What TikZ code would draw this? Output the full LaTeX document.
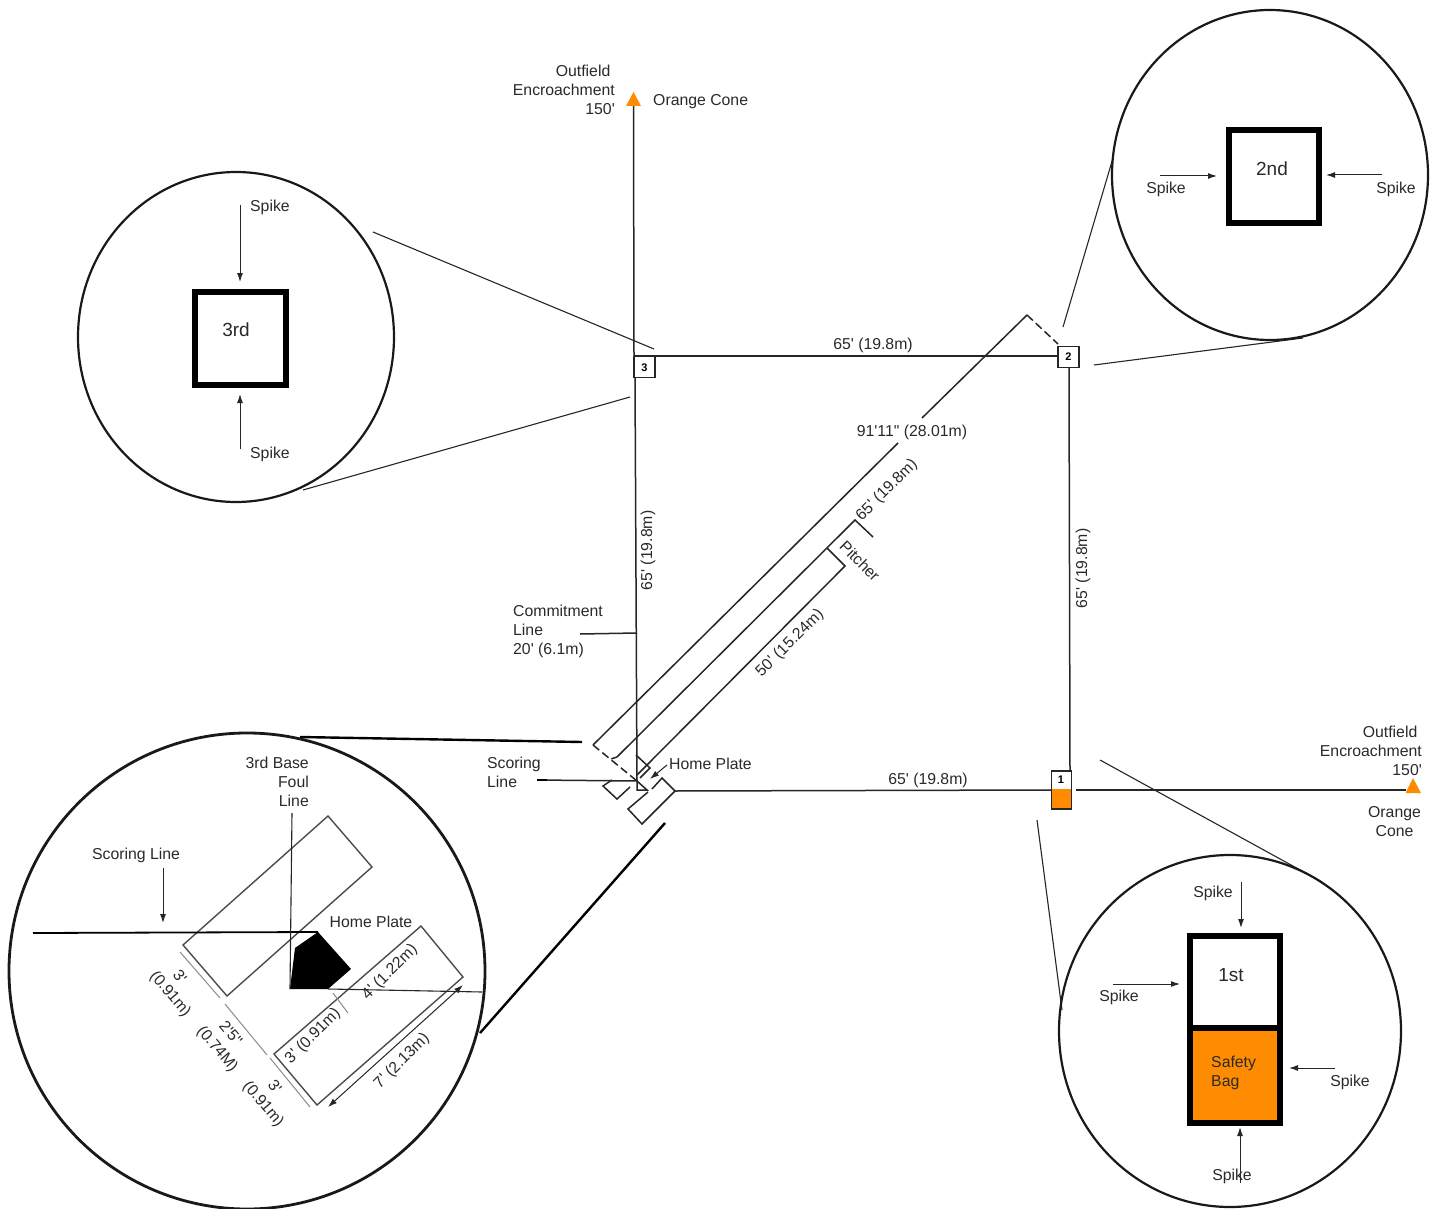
\documentclass[tikz,border=0pt]{standalone}
\usepackage{fontspec}
\newfontfamily\labfont{Liberation Sans}
\usetikzlibrary{arrows.meta}
\definecolor{cone}{HTML}{FF8C00}
\definecolor{txt}{HTML}{2A2A2A}
\tikzset{
  lab/.style={text=txt,inner sep=0pt,yshift=-1.3pt,font=\labfont\fontsize{15.8}{19}\selectfont,align=center},
  labl/.style={lab,align=left,anchor=west},
  labr/.style={lab,align=right,anchor=east},
  big/.style={text=txt,inner sep=0pt,font=\labfont\fontsize{19}{22}\selectfont},
  basenum/.style={text=black,inner sep=0pt,font=\labfont\fontsize{11}{12}\bfseries\selectfont},
  thin line/.style={draw=black!85,line width=1.1pt},
  med line/.style={draw=black!85,line width=1.5pt},
  heavy line/.style={draw=black,line width=2.4pt},
  ring/.style={draw=black!90,line width=2.2pt},
  arr/.style={draw=black!85,line width=1pt,-{Latex[length=9pt,width=6pt]}},
  dim/.style={draw=black!45,line width=1pt},
  boxline/.style={draw=black!70,line width=1.4pt},
  bag/.style={draw=black,line width=6pt},
  conetri/.style={fill=cone,draw=none},
  basebox/.style={draw=black!85,line width=1.4pt,fill=white}
}
\begin{document}
\begin{tikzpicture}[x=1pt,y=-1pt]
\useasboundingbox (0,0) rectangle (1435,1209);
\fill[white] (0,0) rectangle (1435,1209);

% ---- named points
\coordinate (coneT) at (633.5,106);
\coordinate (thirdA) at (634,356);
\coordinate (thirdB) at (635,378);
\coordinate (homeP) at (637,781);
\coordinate (homeR) at (675,791);
\coordinate (firstL) at (1051,790);
\coordinate (firstR) at (1076,790);
\coordinate (coneR) at (1406,790);
\coordinate (secondL) at (1058,356);
\coordinate (secondD) at (1069,367);
\coordinate (firstU) at (1070,771);
\coordinate (apex) at (1027,315);
\coordinate (secondC) at (1058,344);
\coordinate (gapA) at (922,418);
\coordinate (gapB) at (898,443);
\coordinate (leftC) at (593,745);
\coordinate (pitchTop) at (855,520);
\coordinate (pitchTick) at (873,537);
\coordinate (midEnd) at (617,757);
\coordinate (midDash) at (608,760);
\coordinate (pitchRub) at (827,548);
\coordinate (rubEnd) at (845,566);
\coordinate (lowEnd) at (637,775);
\coordinate (scorA) at (537,780);
\coordinate (commitA) at (580,634);
\coordinate (commitB) at (637,633);
\coordinate (hpA) at (667,765);
\coordinate (hpB) at (650,779);

% ---- zoom connectors
\coordinate (z3a) at (373,232); \coordinate (z3b) at (654,349);
\coordinate (z3c) at (630,397); \coordinate (z3d) at (303,490);
\coordinate (z2a) at (1113,158); \coordinate (z2b) at (1063,327);
\coordinate (z2c) at (1094,365); \coordinate (z2d) at (1303,338);
\coordinate (z1a) at (1100,760); \coordinate (z1b) at (1322,882);
\coordinate (z1c) at (1037,820); \coordinate (z1d) at (1062,1010);
\coordinate (zHa) at (300,737); \coordinate (zHb) at (582,742);
\coordinate (zHc) at (665,823); \coordinate (zHd) at (480,1033);

% ---- main field lines
\draw[med line] (coneT) -- (thirdA);
\draw[med line] (thirdB) -- (homeP);
\draw[med line] (thirdA) -- (secondL);
\draw[med line] (secondD) -- (firstU);
\draw[med line] (homeR) -- (firstL);
\draw[med line] (firstR) -- (coneR);
\draw[med line] (leftC) -- (gapB);
\draw[med line] (gapA) -- (apex);
\draw[med line,dashed,dash pattern=on 8pt off 4pt] (apex) -- (secondC);
\draw[med line,dashed,dash pattern=on 8pt off 4pt] (leftC) -- (homeP);
\draw[med line] (midEnd) -- (pitchTop) -- (pitchTick);
\draw[med line,dashed,dash pattern=on 6pt off 4pt] (midEnd) -- (midDash);
\draw[med line] (pitchRub) -- (rubEnd) -- (lowEnd);
\draw[med line] (scorA) -- (homeP);
\draw[line width=2.6pt,black] (scorA) -- ++(10,0);
\draw[med line] (commitA) -- (commitB);
\draw[arr] (hpA) -- (hpB);

% batter's boxes and plate at home
\draw[med line] (612,780) -- (603,786) -- (617,799) -- (630,787);
\draw[med line] (636,755) -- (650,768) -- (640,778);
\draw[med line] (652,789) -- (662,778) -- (675,791) -- (642,824) -- (628,809) -- (648,792);
\draw[med line] (637,781) -- (647,790) -- (637,790) -- cycle;

% ---- bases
\node[basebox,minimum width=21pt,minimum height=21pt,inner sep=0pt] (base3) at (644.5,367) {};
\node[basenum] (n3) at (644.5,368) {3};
\node[basebox,minimum width=21pt,minimum height=21pt,inner sep=0pt] (base2) at (1068.5,357) {};
\node[basenum] (n2) at (1068.5,357) {2};
\fill[cone] (1052,789) rectangle (1071,809);
\draw[med line] (1051.5,789) -- (1051.5,771) -- (1071.5,771) -- (1071.5,809) -- (1051.5,809) -- cycle;
\node[basenum] (n1) at (1061,780) {1};

% ---- cones
\fill[conetri] (633.5,92) -- (641,106) -- (626,106) -- cycle;
\fill[conetri] (1413,778) -- (1421,793) -- (1405.5,793) -- cycle;

% ---- main labels
\node[labr] (of1) at (615,89) {Outfield\hspace*{4.5pt}\\Encroachment\\150'};
\node[labl] (oc1) at (653,100) {Orange Cone};
\node[labr] (of2) at (1422,750) {Outfield\hspace*{4.5pt}\\Encroachment\\150'};
\node[lab] (oc2) at (1394.5,820) {Orange\\Cone};
\node[lab] (d1) at (873,344) {65' (19.8m)};
\node[lab] (d2) at (928,779) {65' (19.8m)};
\node[lab,rotate=90] (d3) at (648,549) {65' (19.8m)};
\node[lab,rotate=90] (d4) at (1083,567) {65' (19.8m)};
\node[lab] (d5) at (912,431) {91'11" (28.01m)};
\node[lab,rotate=45] (d6) at (887,489) {65' (19.8m)};
\node[lab,rotate=-45] (d7) at (860,560) {Pitcher};
\node[lab,rotate=45] (d8) at (790,642) {50' (15.24m)};
\node[labl] (cl) at (513,630) {Commitment\\Line\\20' (6.1m)};
\node[labl] (sl) at (487,771.5) {Scoring\\Line};
\node[labl] (hp) at (669,763) {Home Plate};

% ---- zoom connectors drawn
\draw[thin line] (z3a) -- (z3b);
\draw[thin line] (z3c) -- (z3d);
\draw[thin line] (z2a) -- (z2b);
\draw[thin line] (z2c) -- (z2d);
\draw[thin line] (z1a) -- (z1b);
\draw[thin line] (z1c) -- (z1d);
\draw[heavy line] (zHa) -- (zHb);
\draw[heavy line] (zHc) -- (zHd);

% ---- 3rd base inset
\coordinate (c3) at (236,337);
\draw[ring] (c3) ellipse [x radius=158pt,y radius=165pt];
\draw[bag] (195,292) rectangle (286,385);
\node[big] (t3) at (236,330) {3rd};
\coordinate (a3a) at (240,205); \coordinate (a3b) at (240,282);
\coordinate (a3c) at (240,449); \coordinate (a3d) at (240,394);
\draw[arr] (a3a) -- (a3b);
\draw[arr] (a3c) -- (a3d);
\node[labl] (s3a) at (250,206) {Spike};
\node[labl] (s3b) at (250,453) {Spike};

% ---- 2nd base inset
\coordinate (c2) at (1270,175);
\draw[ring] (c2) ellipse [x radius=158pt,y radius=165pt];
\draw[bag] (1229,130) rectangle (1319,223);
\node[big] (t2) at (1272,169) {2nd};
\coordinate (a2a) at (1160,176); \coordinate (a2b) at (1217,176);
\coordinate (a2c) at (1382,175); \coordinate (a2d) at (1326,175);
\draw[arr] (a2a) -- (a2b);
\draw[arr] (a2c) -- (a2d);
\node[lab] (s2a) at (1166,188) {Spike};
\node[lab] (s2b) at (1396,188) {Spike};

% ---- 1st base inset
\coordinate (c1) at (1230,1031);
\draw[ring] (c1) ellipse [x radius=171pt,y radius=176pt];
\fill[cone] (1190,1028) rectangle (1280,1123);
\draw[bag] (1190,936) rectangle (1280,1123);
\draw[bag] (1190,1028) -- (1280,1028);
\node[big] (t1) at (1231,975) {1st};
\node[labl] (sb) at (1211,1071.5) {Safety\\Bag};
\coordinate (a1a) at (1241,882); \coordinate (a1b) at (1241,928);
\coordinate (a1c) at (1113,984); \coordinate (a1d) at (1180,984);
\coordinate (a1e) at (1335,1068); \coordinate (a1f) at (1289,1068);
\coordinate (a1g) at (1240,1183); \coordinate (a1h) at (1240,1127);
\draw[arr] (a1a) -- (a1b);
\draw[arr] (a1c) -- (a1d);
\draw[arr] (a1e) -- (a1f);
\draw[arr] (a1g) -- (a1h);
\node[lab] (s1a) at (1213,892) {Spike};
\node[lab] (s1b) at (1119,996) {Spike};
\node[lab] (s1c) at (1350,1081) {Spike};
\node[lab] (s1d) at (1232,1175) {Spike};

% ---- home inset
\coordinate (cH) at (247,971);
\draw[ring,line width=2.8pt] (cH) ellipse [x radius=238pt,y radius=238pt];
\draw[boxline] (328,816) -- (372,867) -- (227,996) -- (183,945) -- cycle;
\draw[boxline] (421,926) -- (463,977) -- (317,1105) -- (274,1054) -- cycle;
\fill[black] (318,932) -- (351,969) -- (328,989) -- (290,989) -- (295,948) -- cycle;
\coordinate (hsA) at (33,933); \coordinate (hsB) at (318,932);
\draw[line width=1.8pt,black] (hsA) -- (hsB);
\coordinate (hfA) at (292,813); \coordinate (hfB) at (290,989);
\draw[thin line] (hfA) -- (hfB);
\coordinate (h1A) at (328,989); \coordinate (h1B) at (482,992);
\draw[thin line] (h1A) -- (h1B);
\coordinate (hsa) at (163,868); \coordinate (hsb) at (163,923);
\draw[arr] (hsa) -- (hsb);
\coordinate (h7a) at (328,1107); \coordinate (h7b) at (463,985);
\draw[draw=black!85,line width=1pt,{Latex[length=9pt,width=6pt]}-{Latex[length=9pt,width=6pt]}] (h7a) -- (h7b);
\draw[dim] (180,952) -- (220,998);
\draw[dim] (225,1004) -- (267,1055);
\draw[dim] (270,1058) -- (310,1107);
\draw[dim] (333,993) -- (348,1013);
\node[labr] (h3b) at (309,780.5) {3rd Base\\Foul\\Line};
\node[lab] (h2) at (136,854) {Scoring Line};
\node[lab] (h4) at (371,921) {Home Plate};
\node[lab,rotate=-50] (h5) at (180,975) {3'};
\node[lab,rotate=-50] (h6) at (170,993) {(0.91m)};
\node[lab,rotate=-50] (h7) at (231,1032) {2'5"};
\node[lab,rotate=-50] (h8) at (217,1048) {(0.74M)};
\node[lab,rotate=-50] (h9) at (275,1085) {3'};
\node[lab,rotate=-50] (h10) at (263,1103) {(0.91m)};
\node[lab,rotate=45] (h11) at (313,1035) {3' (0.91m)};
\node[lab,rotate=45] (h12) at (390,971) {4' (1.22m)};
\node[lab,rotate=45] (h13) at (402,1060) {7' (2.13m)};
\end{tikzpicture}
\end{document}
